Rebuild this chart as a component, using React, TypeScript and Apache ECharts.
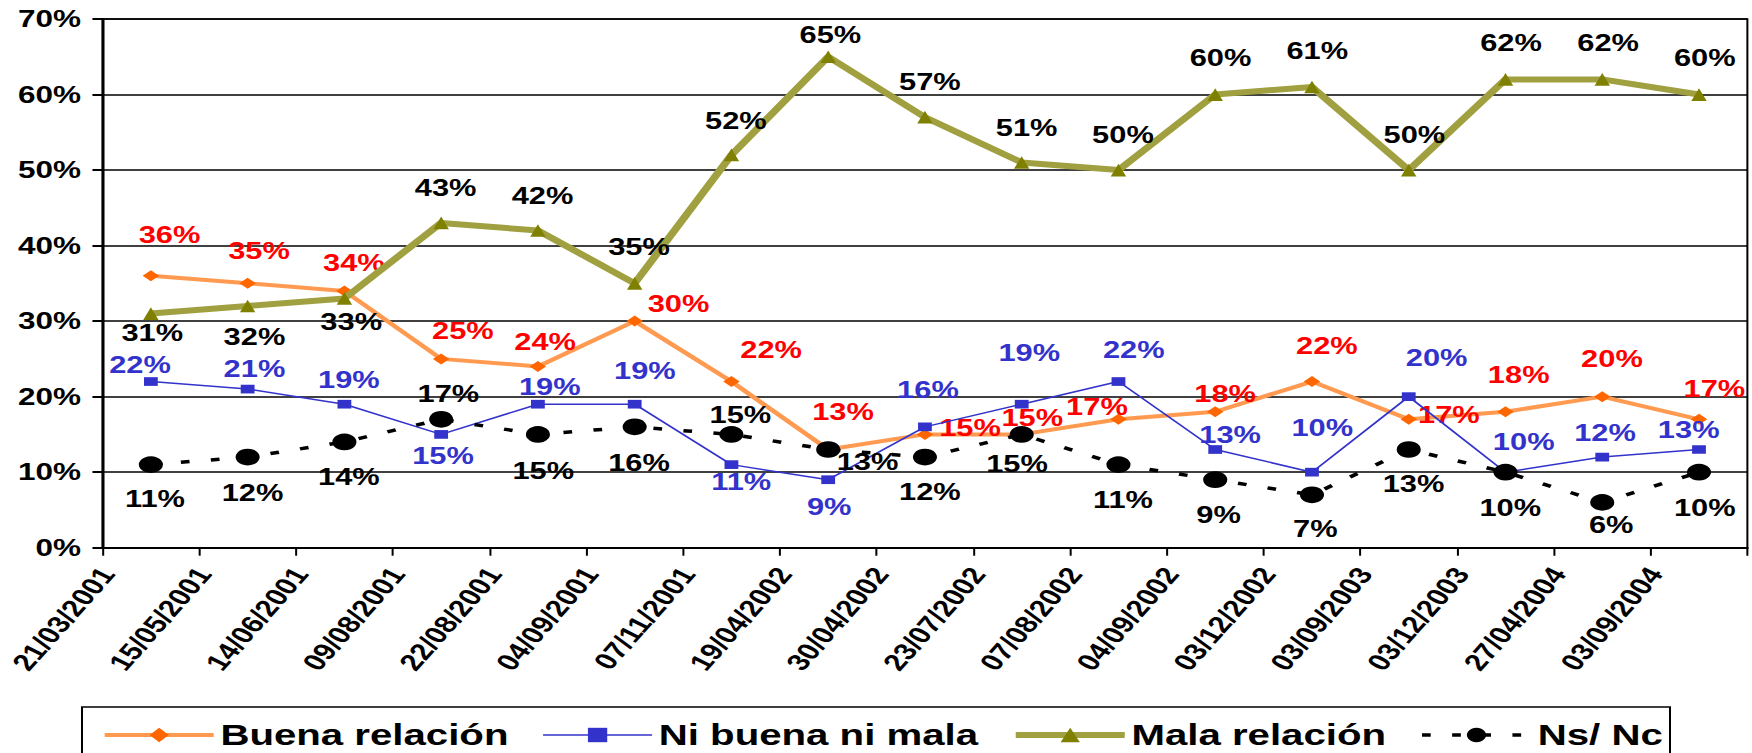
import React, { useEffect, useRef } from "react";
import * as echarts from "echarts";

const categories = [
  "21/03/2001", "15/05/2001", "14/06/2001", "09/08/2001", "22/08/2001", "04/09/2001",
  "07/11/2001", "19/04/2002", "30/04/2002", "23/07/2002", "07/08/2002", "04/09/2002",
  "03/12/2002", "03/09/2003", "03/12/2003", "27/04/2004", "03/09/2004",
];
const buena = [36, 35, 34, 25, 24, 30, 22, 13, 15, 15, 17, 18, 22, 17, 18, 20, 17];
const niBuenaNiMala = [22, 21, 19, 15, 19, 19, 11, 9, 16, 19, 22, 13, 10, 20, 10, 12, 13];
const mala = [31, 32, 33, 43, 42, 35, 52, 65, 57, 51, 50, 60, 61, 50, 62, 62, 60];
const nsnc = [11, 12, 14, 17, 15, 16, 15, 13, 12, 15, 11, 9, 7, 13, 10, 6, 10];

// label offsets (final-picture px) relative to each marker
const buenaLabelOffsets = [
  [18.6, -41], [11.4, -32.6], [9.5, -27.6], [21.7, -28.2], [7.2, -24.7], [43.8, -17.1],
  [39.7, -31.5], [14.8, -37.8], [45.1, -6.1], [10.6, -16.1], [-21.5, -12.6], [9.9, -17.4],
  [14.9, -35.5], [40.1, -4.3], [13.2, -36.7], [9.7, -37.3], [15.4, -30],
];
const niLabelOffsets = [
  [-10.9, -16.5], [6.8, -19.7], [4.5, -24.2], [1.9, 21.6], [11.9, -16.9], [10.2, -33.2],
  [9.8, 17.1], [1, 27.6], [3, -36.9], [7.6, -50.9], [15.3, -31.5], [14.9, -14.5],
  [10.3, -43.9], [27.9, -38.3], [18.2, -30.5], [2.8, -24.4], [-10.3, -19.5],
];
const malaLabelOffsets = [
  [1.4, 19], [6.8, 30.7], [6.8, 23.2], [4.5, -34.6], [4.6, -34.5], [4.4, -36],
  [4.4, -34.2], [2.2, -21.8], [4.9, -35.5], [4.9, -34.2], [4.5, -35.1], [5.3, -36.2],
  [5.3, -36.2], [5.6, -35.1], [5.5, -36.1], [5.9, -36.1], [5.8, -36.2],
];
const nsLabelOffsets = [
  [4.1, 34.7], [4.9, 35.6], [4.5, 35.3], [7.2, -25], [5.3, 36.3], [4.4, 36.4],
  [9, -19.4], [39.3, 12.8], [4.9, 34.6], [-4.7, 29.6], [4.5, 35.4], [3.4, 35.3],
  [3.3, 34.5], [4.8, 34.8], [4.8, 36.1], [8.9, 22.6], [5.8, 36.1],
];

const S = 1.34; // horizontal stretch of the original picture
const W = 1752 / S;
const H = 753;
const FONT = "'Liberation Sans', Arial, Helvetica, sans-serif";

export default function App() {
  const ref = useRef<HTMLDivElement>(null);
  useEffect(() => {
    const chart = echarts.init(ref.current!, null, { renderer: "svg" });
    const mk = (values: number[], offsets: number[][]) =>
      values.map((v, i) => ({ value: v, label: { offset: [offsets[i][0] / S, offsets[i][1]] } }));
    const labelBase = (color: string) => ({
      show: true,
      position: "inside",
      formatter: "{c}%",
      color,
      fontFamily: FONT,
      fontWeight: "bold",
      fontSize: 23,
    });
    chart.setOption({
      animation: false,
      textStyle: { fontFamily: FONT },
      grid: {
        left: 102.5 / S,
        right: 4 / S,
        top: 19,
        bottom: H - 547.7,
        show: true,
        borderColor: "#000",
        borderWidth: 1.5,
        outerBoundsMode: "none",
      },
      xAxis: {
        type: "category",
        data: categories,
        boundaryGap: true,
        axisLine: { show: true, lineStyle: { color: "#000", width: 2 } },
        axisTick: { show: true, length: 8, lineStyle: { color: "#000", width: 1.5 } },
        axisLabel: {
          interval: 0,
          rotate: 56.3,
          margin: -26.5,
          padding: [0, 58.7, 0, 0],
          fontFamily: FONT,
          fontWeight: "bold",
          fontSize: 23.5,
          color: "#000",
        },
      },
      yAxis: {
        type: "value",
        min: 0,
        max: 70,
        interval: 10,
        axisLine: { show: true, lineStyle: { color: "#000", width: 2 } },
        axisTick: { show: true, length: 7.5, lineStyle: { color: "#000", width: 2 } },
        axisLabel: {
          formatter: "{value}%",
          margin: 16,
          fontFamily: FONT,
          fontWeight: "bold",
          fontSize: 23.5,
          color: "#000",
        },
        splitLine: { show: true, lineStyle: { color: "#000", width: 1.5 } },
      },
      legend: {
        left: 102 / S,
        top: 720,
        padding: 0,
        itemWidth: 109 / S,
        itemHeight: 18,
        itemGap: 25,
        lineStyle: { width: "inherit" },
        textStyle: { fontFamily: FONT, fontWeight: "bold", fontSize: 30, color: "#000" },
        data: ["Buena relación", "Ni buena ni mala", "Mala relación", "Ns/ Nc"],
      },
      graphic: [
        {
          type: "rect",
          shape: { x: 82 / S, y: 707, width: (1670 - 82) / S, height: 70 },
          style: { fill: "none", stroke: "#000", lineWidth: 1.5 },
          silent: true,
        },
      ],
      series: [
        {
          name: "Buena relación",
          type: "line",
          data: mk(buena, buenaLabelOffsets),
          symbol: "diamond",
          symbolSize: [12.3, 11],
          itemStyle: { color: "#FF6600" },
          lineStyle: { color: "#FF9A50", width: 4 },
          label: labelBase("#FF0000"),
          z: 2,
        },
        {
          name: "Ni buena ni mala",
          type: "line",
          data: mk(niBuenaNiMala, niLabelOffsets),
          symbol: "rect",
          symbolSize: [10.3, 8.7],
          itemStyle: { color: "#3333CC" },
          lineStyle: { color: "#3333CC", width: 1.5 },
          label: labelBase("#3333CC"),
          z: 3,
        },
        {
          name: "Mala relación",
          type: "line",
          data: mk(mala, malaLabelOffsets),
          symbol: "triangle",
          symbolSize: [11.5, 12.7],
          itemStyle: { color: "#808000" },
          lineStyle: { color: "#A0A040", width: 6 },
          label: labelBase("#000000"),
          z: 4,
        },
        {
          name: "Ns/ Nc",
          type: "line",
          data: mk(nsnc, nsLabelOffsets),
          symbol: "circle",
          symbolSize: [18, 16.7],
          itemStyle: { color: "#000000" },
          lineStyle: { color: "#000000", width: 3.5, type: [6.5, 16] },
          label: labelBase("#000000"),
          z: 5,
        },
      ],
    });
    return () => chart.dispose();
  }, []);
  return (
    <div
      ref={ref}
      style={{
        position: "absolute",
        left: 0,
        top: 0,
        width: W,
        height: H,
        transform: `scaleX(${S})`,
        transformOrigin: "0 0",
      }}
    />
  );
}
